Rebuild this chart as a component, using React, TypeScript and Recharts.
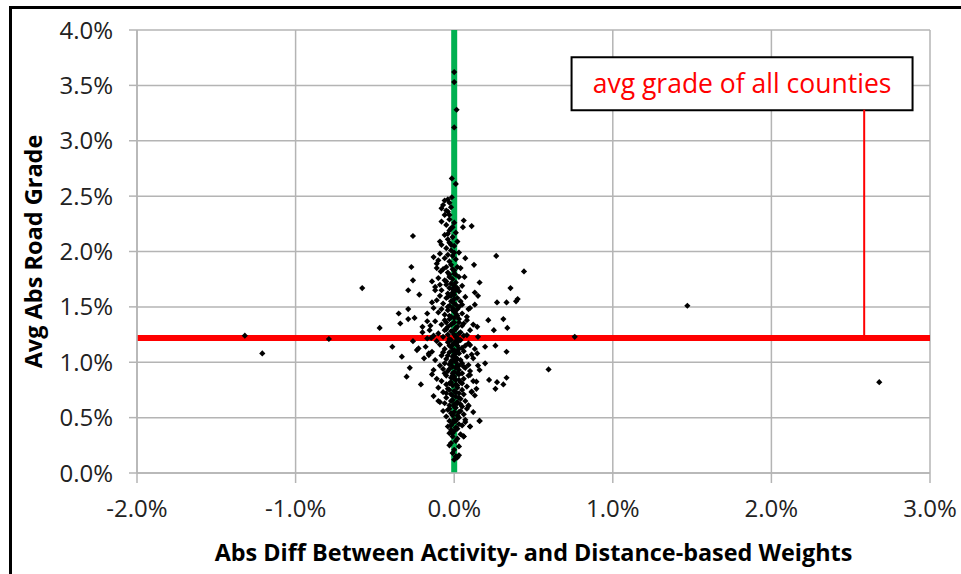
import React from 'react';
import {
  ScatterChart,
  Scatter,
  XAxis,
  YAxis,
  CartesianGrid,
  ReferenceLine,
  ReferenceArea,
} from 'recharts';

// axis ticks (percent)
const xTicks = [-2, -1, 0, 1, 2, 3];
const yTicks = [0, 0.5, 1, 1.5, 2, 2.5, 3, 3.5, 4];

// avg grade of all counties (%)
const avgGrade = 1.22;
const calloutText = 'avg grade of all counties';

// counties: [abs diff %, avg abs road grade %]
const outliers: [number, number][] = [
  [-1.32, 1.24], [-1.21, 1.08], [-0.79, 1.21], [-0.58, 1.67],
  [0.76, 1.23], [0.595, 0.935], [1.47, 1.51], [2.68, 0.82],
];

const upperTail: [number, number][] = [
  [-0.015, 2.66], [0.01, 2.61], [0.0, 3.12], [0.015, 3.28], [0.0, 3.53], [0.0, 3.62],
  [-0.06, 2.33], [-0.04, 2.36], [-0.08, 2.39], [-0.05, 2.37], [-0.03, 2.44],
  [-0.015, 2.49], [-0.07, 2.42], [-0.04, 2.47],
];

const leftWing: [number, number][] = [
  [-0.26, 2.14], [-0.09, 2.09], [-0.08, 2.27], [-0.1, 1.92], [-0.11, 1.85],
  [-0.085, 1.82], [-0.09, 1.7], [-0.12, 1.65], [-0.27, 1.86], [-0.26, 1.74],
  [-0.29, 1.65], [-0.22, 1.61], [-0.47, 1.31], [-0.35, 1.44], [-0.29, 1.48],
  [-0.34, 1.35], [-0.29, 1.39], [-0.25, 1.4], [-0.2, 1.32], [-0.17, 1.37],
  [-0.155, 1.29], [-0.39, 1.14], [-0.33, 1.05], [-0.26, 1.19], [-0.235, 1.11],
  [-0.19, 1.035], [-0.28, 0.95], [-0.3, 0.87], [-0.21, 0.8], [-0.17, 1.215],
  [-0.145, 1.22], [-0.225, 1.125], [-0.14, 1.095], [-0.16, 1.065], [-0.13, 0.695],
  [-0.1, 0.65],
];

const rightWing: [number, number][] = [
  [0.06, 2.28], [0.11, 2.23], [0.055, 2.22], [0.265, 1.96], [0.07, 1.94],
  [0.125, 1.88], [0.44, 1.82], [0.065, 1.77], [0.16, 1.72], [0.355, 1.67],
  [0.13, 1.63], [0.15, 1.6], [0.4, 1.57], [0.08, 1.41], [0.1, 1.49],
  [0.13, 1.52], [0.145, 1.32], [0.215, 1.38], [0.27, 1.54], [0.33, 1.54],
  [0.39, 1.55], [0.31, 1.39], [0.335, 1.31], [0.25, 1.29], [0.195, 1.14],
  [0.26, 1.15], [0.33, 1.095], [0.145, 1.08], [0.195, 0.99], [0.16, 0.93],
  [0.22, 0.84], [0.27, 0.82], [0.31, 0.8], [0.33, 0.86], [0.1, 1.155],
  [0.08, 1.245], [0.12, 1.035], [0.09, 0.975], [0.1, 0.885], [0.14, 0.825],
  [0.26, 0.76], [0.09, 0.605], [0.16, 0.47], [0.1, 0.42], [0.07, 0.48],
  [0.06, 0.33], [0.03, 0.16], [0.11, 0.735],
];

const coreLow: [number, number][] = [
  [0.0, 0.12], [0.01, 0.15], [-0.01, 0.18], [0.02, 0.14],
  [0.0, 0.21], [0.03, 0.24], [-0.02, 0.27], [0.01, 0.29], [-0.03, 0.25],
  [0.02, 0.31], [-0.01, 0.33], [0.04, 0.35], [-0.03, 0.36], [0.0, 0.38], [0.06, 0.33], [-0.02, 0.39],
  [0.01, 0.41], [-0.04, 0.42], [0.03, 0.44], [0.07, 0.46], [-0.01, 0.45], [0.0, 0.48],
  [0.05, 0.43], [-0.03, 0.47], [0.1, 0.42], [0.16, 0.47], [0.02, 0.49],
  [-0.05, 0.51], [0.02, 0.52], [0.06, 0.53], [-0.02, 0.54], [0.0, 0.55], [0.04, 0.56],
  [-0.04, 0.57], [0.08, 0.58], [0.01, 0.59], [-0.07, 0.56], [0.12, 0.55], [0.03, 0.5],
  [-0.03, 0.61], [0.05, 0.6], [0.0, 0.62], [-0.06, 0.63], [0.02, 0.64], [0.09, 0.61],
  [-0.01, 0.66], [0.04, 0.67], [-0.05, 0.68], [0.01, 0.69], [0.07, 0.65], [-0.09, 0.64],
  [0.13, 0.7], [0.11, 0.73],
];

const coreMid: [number, number][] = [
  [-0.02, 0.71], [0.03, 0.72], [-0.07, 0.73], [0.0, 0.74], [0.05, 0.75], [-0.04, 0.76],
  [0.02, 0.77], [0.08, 0.78], [-0.01, 0.79], [-0.1, 0.77], [0.06, 0.71], [-0.05, 0.8],
  [0.14, 0.76], [0.01, 0.8],
  [-0.03, 0.81], [0.04, 0.82], [-0.08, 0.83], [0.01, 0.84], [0.06, 0.85], [-0.02, 0.86],
  [0.0, 0.87], [0.09, 0.88], [-0.05, 0.88], [0.03, 0.89], [-0.11, 0.85], [0.12, 0.83],
  [-0.01, 0.9], [0.05, 0.9], [-0.14, 0.89],
  [0.0, 0.91], [-0.04, 0.92], [0.03, 0.93], [-0.07, 0.94], [0.07, 0.95], [-0.01, 0.96],
  [0.02, 0.97], [-0.09, 0.97], [0.1, 0.92], [-0.03, 0.98], [0.05, 0.99], [0.01, 1.0],
  [-0.06, 0.99], [0.15, 0.97], [-0.13, 0.93],
  [-0.02, 1.01], [0.04, 1.02], [-0.05, 1.03], [0.01, 1.04], [0.08, 1.05], [-0.08, 1.06],
  [0.0, 1.07], [0.03, 1.08], [-0.03, 1.09], [0.06, 1.1], [-0.12, 1.02], [0.11, 1.07],
  [-0.01, 1.05], [0.02, 1.1], [-0.16, 1.08],
  [0.0, 1.11], [-0.06, 1.12], [0.05, 1.13], [-0.02, 1.14], [0.02, 1.15], [-0.09, 1.16],
  [0.09, 1.17], [-0.04, 1.18], [0.01, 1.19], [0.04, 1.2], [-0.11, 1.19], [0.13, 1.12],
  [-0.01, 1.16], [-0.18, 1.14],
];

const coreHigh: [number, number][] = [
  [-0.03, 1.21], [0.02, 1.22], [-0.07, 1.23], [0.06, 1.24], [0.0, 1.25], [-0.1, 1.26],
  [0.04, 1.27], [-0.02, 1.28], [0.1, 1.29], [-0.05, 1.3], [0.01, 1.3], [-0.13, 1.24],
  [0.15, 1.23], [-0.2, 1.27],
  [0.01, 1.31], [-0.04, 1.32], [0.05, 1.33], [-0.08, 1.34], [-0.01, 1.35], [0.03, 1.36],
  [-0.12, 1.37], [0.08, 1.38], [-0.03, 1.39], [0.0, 1.4], [-0.06, 1.38], [0.12, 1.34],
  [-0.15, 1.33],
  [-0.02, 1.41], [0.02, 1.42], [-0.06, 1.43], [0.05, 1.44], [-0.1, 1.45], [0.0, 1.46],
  [-0.04, 1.47], [0.09, 1.48], [-0.13, 1.49], [0.03, 1.5], [-0.01, 1.49], [-0.17, 1.44],
  [-0.03, 1.51], [0.01, 1.52], [-0.07, 1.53], [0.04, 1.55], [-0.11, 1.56], [0.0, 1.57],
  [-0.05, 1.58], [0.07, 1.59], [-0.02, 1.6], [-0.14, 1.54],
  [0.0, 1.61], [-0.04, 1.62], [0.03, 1.64], [-0.08, 1.65], [-0.01, 1.66], [-0.12, 1.68],
  [0.05, 1.69], [-0.05, 1.7], [0.02, 1.67],
  [-0.02, 1.71], [0.01, 1.72], [-0.06, 1.74], [-0.1, 1.76], [0.03, 1.77], [-0.03, 1.79],
  [0.0, 1.8], [-0.14, 1.73],
  [-0.04, 1.81], [0.0, 1.83], [-0.07, 1.84], [0.02, 1.86], [-0.02, 1.88], [-0.11, 1.89],
  [0.04, 1.85],
  [-0.03, 1.91], [0.01, 1.93], [-0.06, 1.94], [-0.01, 1.96], [-0.09, 1.98], [0.03, 1.99],
  [-0.13, 1.95],
  [-0.02, 2.01], [-0.05, 2.03], [0.0, 2.05], [-0.08, 2.06], [-0.03, 2.08], [0.02, 2.09],
  [-0.04, 2.11], [-0.01, 2.13], [-0.06, 2.15], [0.01, 2.17], [-0.03, 2.19],
  [-0.02, 2.21], [-0.05, 2.24], [0.0, 2.26], [-0.03, 2.29],
];

// the solid black spine of near-zero differences
const coreSpine: [number, number][] = [
  [-0.01, 0.36], [0.02, 0.4], [-0.02, 0.43], [0.01, 0.47], [-0.01, 0.52], [0.03, 0.55],
  [-0.03, 0.58], [0.0, 0.6], [0.02, 0.63], [-0.02, 0.65], [0.03, 0.68], [-0.01, 0.7],
  [0.01, 0.73], [-0.03, 0.75], [0.02, 0.79], [-0.02, 0.82], [0.03, 0.84], [0.0, 0.85],
  [-0.01, 0.88], [0.02, 0.9], [-0.03, 0.94], [0.01, 0.95], [0.03, 0.97], [-0.02, 0.99],
  [0.0, 1.02], [0.02, 1.03], [-0.04, 1.06], [0.01, 1.08], [-0.01, 1.11], [0.03, 1.12],
  [-0.03, 1.15], [0.0, 1.17], [0.02, 1.18], [-0.02, 1.2], [0.01, 1.23], [-0.04, 1.25],
  [0.03, 1.26], [-0.01, 1.28], [0.02, 1.32], [-0.02, 1.34], [0.0, 1.36], [-0.05, 1.36],
  [0.03, 1.39], [-0.03, 1.42], [0.01, 1.44], [-0.01, 1.47], [0.02, 1.48], [-0.04, 1.5],
  [0.0, 1.53], [-0.02, 1.55], [0.02, 1.58], [-0.04, 1.59], [-0.01, 1.63], [0.01, 1.65],
  [-0.03, 1.67], [0.0, 1.69], [-0.05, 1.73], [-0.01, 1.75], [-0.03, 1.77], [0.01, 1.79],
  [-0.05, 1.86], [-0.01, 1.84], [-0.04, 1.97], [0.0, 1.99], [-0.02, 2.06], [-0.04, 2.16],
  [-0.01, 2.22], [-0.03, 2.33], [-0.06, 2.46], [-0.02, 2.4],
  [0.04, 0.62], [-0.05, 0.72], [0.05, 0.81], [-0.06, 0.9], [0.06, 0.96], [-0.07, 1.09],
  [0.07, 1.15], [-0.06, 1.29], [0.06, 1.35], [-0.08, 1.48], [0.05, 1.52], [-0.09, 1.6],
];

const counties = [
  ...outliers, ...upperTail, ...leftWing, ...rightWing,
  ...coreLow, ...coreMid, ...coreHigh, ...coreSpine,
].map(([x, y]) => ({ x, y }));

const FONT = '"Open Sans", "Liberation Sans", sans-serif';
const GRID = '#b4b4b4';

const pct = (v: number) => `${v.toFixed(1)}%`;

// small black diamond marker like Excel
const Diamond = (props: any) => {
  const { cx, cy } = props;
  if (cx == null || cy == null) return null;
  const r = 3.1;
  return (
    <path
      d={`M${cx},${cy - r}L${cx + r},${cy}L${cx},${cy + r}L${cx - r},${cy}Z`}
      fill="#000"
    />
  );
};

const YTitle = (props: any) => {
  const { viewBox } = props;
  const cx = viewBox.x + 34;
  const cy = viewBox.y + viewBox.height / 2;
  return (
    <text
      x={cx}
      y={cy}
      dy="0.36em"
      transform={`rotate(-90, ${cx}, ${cy})`}
      textAnchor="middle"
      fontFamily={FONT}
      fontWeight={700}
      fontSize={23.5}
      fill="#000"
    >
      Avg Abs Road Grade
    </text>
  );
};

export default function App() {
  return (
    <div style={{ position: 'absolute', left: 0, top: 0, width: 961, height: 574, background: '#fff' }}>
      <div
        style={{
          position: 'absolute',
          left: 9,
          top: 6,
          right: 0,
          bottom: 0,
          borderLeft: '3px solid #000',
          borderTop: '3px solid #000',
        }}
      />
      <ScatterChart
        width={961}
        height={574}
        margin={{ top: 30, right: 31, left: 0, bottom: 0 }}
        style={{ position: 'absolute', left: 0, top: 0 }}
      >
        <CartesianGrid stroke={GRID} strokeWidth={1.5} />
        <XAxis
          type="number"
          dataKey="x"
          domain={[-2, 3]}
          ticks={xTicks}
          tickFormatter={pct}
          height={101}
          tickSize={10}
          tickMargin={17}
          stroke={GRID}
          strokeWidth={1.5}
          tick={{ fill: '#222', fontSize: 24, fontFamily: FONT }}
          label={{
            value: 'Abs Diff Between Activity- and Distance-based Weights',
            position: 'insideBottom',
            offset: 13,
            fill: '#000',
            fontSize: 23.4,
            fontWeight: 700,
            fontFamily: FONT,
          }}
        />
        <YAxis
          type="number"
          dataKey="y"
          domain={[0, 4]}
          ticks={yTicks}
          tickFormatter={pct}
          width={137}
          tickSize={8}
          tickMargin={16}
          stroke={GRID}
          strokeWidth={1.5}
          tick={{ fill: '#222', fontSize: 24, fontFamily: FONT }}
          label={{ content: YTitle }}
        />
        <ReferenceLine x={0} stroke="#00b050" strokeWidth={6} />
        <ReferenceLine y={avgGrade} stroke="#ff0000" strokeWidth={6} />
        <ReferenceLine
          segment={[
            { x: 2.585, y: avgGrade },
            { x: 2.585, y: 3.28 },
          ]}
          stroke="#ff0000"
          strokeWidth={2}
        />
        <ReferenceArea
          x1={0.74}
          x2={2.89}
          y1={3.276}
          y2={3.755}
          fill="#fff"
          fillOpacity={1}
          stroke="#000"
          strokeWidth={2}
          label={{
            value: calloutText,
            position: 'center',
            fill: '#ff0000',
            fontSize: 26.5,
            fontFamily: FONT,
          }}
        />
        <Scatter data={counties} shape={Diamond} isAnimationActive={false} />
      </ScatterChart>
    </div>
  );
}
